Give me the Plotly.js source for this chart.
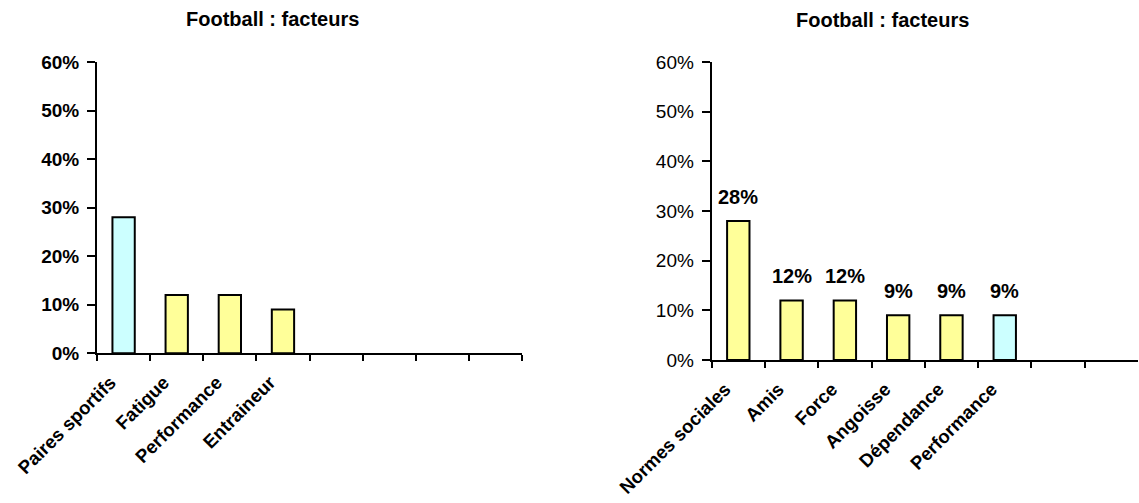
<!DOCTYPE html>
<html>
<head>
<meta charset="utf-8">
<script src="https://cdn.plot.ly/plotly-3.0.1.min.js"></script>
<style>
  html, body { margin: 0; padding: 0; background: #fff; }
  #chart { width: 1139px; height: 503px; }
</style>
</head>
<body>
<div id="chart"></div>
<script>
// Left panel: factors
const leftCategories = ['Paires sportifs', 'Fatigue', 'Performance', 'Entraineur'];
const leftValues = [28, 12, 12, 9];

// Right panel: factors
const rightCategories = ['Normes sociales', 'Amis', 'Force', 'Angoisse', 'Dépendance', 'Performance'];
const rightValues = [28, 12, 12, 9, 9, 9];

const chartTitle = 'Football : facteurs';
const yTicks = [0, 10, 20, 30, 40, 50, 60];
const yTickLabels = ['0%', '10%', '20%', '30%', '40%', '50%', '60%'];

// Both panels reserve eight category slots; unused slots stay blank.
const SLOTS = 8;
function slotArray(cats) {
  const out = cats.slice();
  let pad = ' ';
  while (out.length < SLOTS) { out.push(pad); pad += ' '; }
  return out;
}

const YELLOW = '#FFFF99';
const CYAN = '#CCFFFF';
const FONT = 'Liberation Sans, Arial, sans-serif';

const leftColors = leftCategories.map(c => c === 'Paires sportifs' ? CYAN : YELLOW);
const rightColors = rightCategories.map((c, i) => i === rightCategories.length - 1 ? CYAN : YELLOW);

const traces = [
  {
    type: 'bar', x: leftCategories, y: leftValues, xaxis: 'x', yaxis: 'y',
    width: 0.42,
    marker: { color: leftColors, line: { color: '#000', width: 2 } },
    hoverinfo: 'x+y'
  },
  {
    type: 'bar', x: rightCategories, y: rightValues, xaxis: 'x2', yaxis: 'y2',
    width: 0.42,
    marker: { color: rightColors, line: { color: '#000', width: 2 } },
    hoverinfo: 'x+y'
  }
];

function xAxis(domain, cats, anchor) {
  return {
    domain: domain, anchor: anchor,
    type: 'category', categoryorder: 'array', categoryarray: slotArray(cats),
    range: [-0.5, SLOTS - 0.5],
    tickson: 'boundaries', ticks: 'outside', ticklen: 6, tickwidth: 2, tickcolor: '#000',
    showline: true, linecolor: '#000', linewidth: 2,
    showgrid: false, zeroline: false,
    tickangle: -45, ticklabelstandoff: 9, ticklabelshift: -13,
    tickfont: { family: FONT, size: 18.6, color: '#000', weight: 'bold' },
    fixedrange: true
  };
}

function yAxis(domain, anchor, bold) {
  return {
    domain: domain, anchor: anchor,
    range: [0, 60], tickmode: 'array', tickvals: yTicks, ticktext: yTickLabels,
    ticks: 'outside', ticklen: 8, tickwidth: 2, tickcolor: '#000',
    showline: true, linecolor: '#000', linewidth: 2,
    showgrid: false, zeroline: false, ticklabelstandoff: 4,
    tickfont: { family: FONT, size: 19, color: '#000', weight: bold ? 'bold' : 'normal' },
    fixedrange: true
  };
}

// Value labels above the right-hand bars
const valueLabels = rightCategories.map((c, i) => ({
  xref: 'x2', yref: 'y2', x: c, y: rightValues[i],
  text: rightValues[i] + '%', showarrow: false,
  yanchor: 'bottom', yshift: 11,
  font: { family: FONT, size: 20, color: '#000', weight: 'bold' }
}));

const layout = {
  width: 1139, height: 503,
  margin: { l: 0, r: 0, t: 0, b: 0 },
  paper_bgcolor: '#fff', plot_bgcolor: '#fff',
  showlegend: false,
  xaxis: xAxis([0.0852, 0.4583], leftCategories, 'y'),
  yaxis: yAxis([0.2976, 0.8767], 'x', true),
  xaxis2: xAxis([0.6248, 0.9991], rightCategories, 'y2'),
  yaxis2: yAxis([0.2843, 0.8767], 'x2', false),
  annotations: [
    { xref: 'paper', yref: 'paper', x: 272 / 1139, y: 1 - 19 / 503, xanchor: 'center', yanchor: 'middle',
      text: chartTitle, showarrow: false,
      font: { family: FONT, size: 20, color: '#000', weight: 'bold' } },
    { xref: 'paper', yref: 'paper', x: 882 / 1139, y: 1 - 20 / 503, xanchor: 'center', yanchor: 'middle',
      text: chartTitle, showarrow: false,
      font: { family: FONT, size: 20, color: '#000', weight: 'bold' } }
  ].concat(valueLabels)
};

Plotly.newPlot('chart', traces, layout, { displayModeBar: false, staticPlot: true });
</script>
</body>
</html>
